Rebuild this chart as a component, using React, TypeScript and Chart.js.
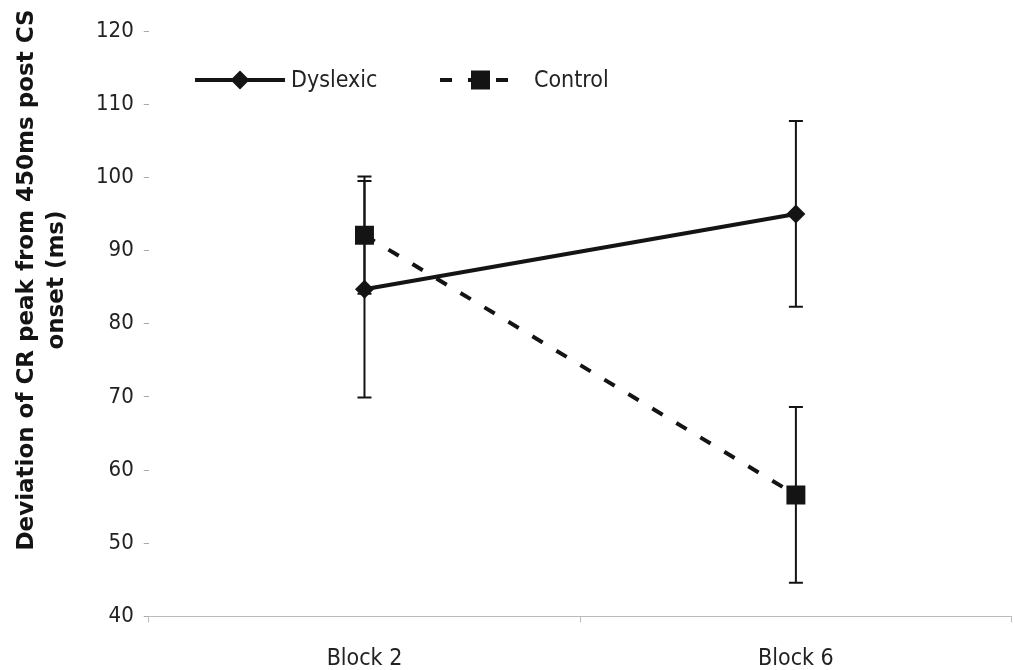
import React, { useEffect, useRef } from "react";
import { Chart, registerables } from "chart.js";

Chart.register(...registerables);

const categories = ["Block 2", "Block 6"];
const dyslexic = [84.7, 95.0];
const dyslexicErr = [14.8, 12.7];
const control = [92.1, 56.6];
const controlErr = [8.0, 12.0];
const yTicks = [40, 50, 60, 70, 80, 90, 100, 110, 120];
const seriesNames = ["Dyslexic", "Control"];
const yTitleLines = ["Deviation of CR peak from 450ms post CS", "onset (ms)"];

const FONT = "'DejaVu Sans Condensed', 'DejaVu Sans', sans-serif";
const TITLE_FONT = "'DejaVu Sans', sans-serif";
const INK = "#141414";

const errorBarPlugin = {
  id: "errorBars",
  beforeDatasetsDraw(chart: any) {
    const ctx = chart.ctx;
    const y = chart.scales.y;
    const errs = [dyslexicErr, controlErr];
    chart.data.datasets.forEach((ds: any, di: number) => {
      const meta = chart.getDatasetMeta(di);
      meta.data.forEach((pt: any, i: number) => {
        const v = ds.data[i];
        const e = errs[di][i];
        const yTop = y.getPixelForValue(v + e);
        const yBot = y.getPixelForValue(v - e);
        ctx.save();
        ctx.strokeStyle = INK;
        ctx.lineWidth = 2;
        ctx.beginPath();
        ctx.moveTo(pt.x, yTop);
        ctx.lineTo(pt.x, yBot);
        ctx.moveTo(pt.x - 7, yTop);
        ctx.lineTo(pt.x + 7, yTop);
        ctx.moveTo(pt.x - 7, yBot);
        ctx.lineTo(pt.x + 7, yBot);
        ctx.stroke();
        ctx.restore();
      });
    });
  },
};

const legendPlugin = {
  id: "customLegend",
  afterDraw(chart: any) {
    const ctx = chart.ctx;
    const ly = 80;
    ctx.save();
    ctx.strokeStyle = INK;
    ctx.fillStyle = INK;
    // Dyslexic
    ctx.lineWidth = 4;
    ctx.beginPath();
    ctx.moveTo(195, ly);
    ctx.lineTo(285, ly);
    ctx.stroke();
    ctx.beginPath();
    ctx.moveTo(240 - 9.5, ly);
    ctx.lineTo(240, ly - 9.5);
    ctx.lineTo(240 + 9.5, ly);
    ctx.lineTo(240, ly + 9.5);
    ctx.closePath();
    ctx.fill();
    // Control
    ctx.setLineDash([12, 16]);
    ctx.beginPath();
    ctx.moveTo(440, ly);
    ctx.lineTo(524, ly);
    ctx.stroke();
    ctx.setLineDash([]);
    ctx.fillRect(471, ly - 9.5, 19, 19);
    ctx.font = `23px ${FONT}`;
    ctx.textBaseline = "middle";
    ctx.fillStyle = "#222";
    ctx.fillText(seriesNames[0], 291, ly + 1);
    ctx.fillText(seriesNames[1], 534, ly + 1);
    // Y-axis title
    ctx.fillStyle = INK;
    ctx.font = `bold 23px ${TITLE_FONT}`;
    ctx.textAlign = "center";
    ctx.textBaseline = "middle";
    const cy = 280;
    const xs = [27, 57];
    yTitleLines.forEach((line, i) => {
      ctx.save();
      ctx.translate(xs[i], cy);
      ctx.rotate(-Math.PI / 2);
      ctx.fillText(line, 0, 0);
      ctx.restore();
    });
    ctx.restore();
  },
};

export default function App() {
  const ref = useRef<HTMLCanvasElement>(null);
  useEffect(() => {
    if (!ref.current) return;
    const chart = new Chart(ref.current, {
      type: "line",
      data: {
        labels: categories,
        datasets: [
          {
            label: seriesNames[0],
            data: dyslexic,
            borderColor: INK,
            backgroundColor: INK,
            borderWidth: 4,
            pointStyle: "rectRot",
            pointRadius: 9.5,
            pointBorderWidth: 0,
          },
          {
            label: seriesNames[1],
            data: control,
            borderColor: INK,
            backgroundColor: INK,
            borderWidth: 4,
            borderDash: [12, 16],
            pointStyle: "rect",
            pointRadius: 13.4,
            pointBorderWidth: 0,
          },
        ],
      },
      options: {
        animation: false,
        responsive: false,
        layout: { padding: { top: 31, right: 0, left: 86, bottom: -26 } },
        plugins: { legend: { display: false }, tooltip: { enabled: false } },
        scales: {
          x: {
            offset: true,
            grid: {
              offset: true,
              drawOnChartArea: false,
              drawTicks: true,
              tickLength: 6,
              color: "#bbbbbb",
            },
            border: { display: true, color: "#bbbbbb", width: 1 },
            ticks: {
              color: "#222",
              font: { family: FONT, size: 23 },
              padding: 23,
            },
          },
          y: {
            min: 40,
            max: 120,
            afterBuildTicks(axis: any) {
              axis.ticks = yTicks.map((v) => ({ value: v }));
            },
            grid: {
              drawOnChartArea: false,
              drawTicks: true,
              tickLength: 5,
              color: "#aaaaaa",
            },
            border: { display: false },
            ticks: {
              color: "#222",
              font: { family: FONT, size: 22 },
              padding: 10,
            },
          },
        },
      },
      plugins: [errorBarPlugin, legendPlugin],
    });
    return () => chart.destroy();
  }, []);
  return (
    <div style={{ position: "fixed", left: 0, top: 0, width: 1015, height: 670, overflow: "hidden", background: "#fff" }}>
      <canvas ref={ref} width={1025} height={670} style={{ display: "block" }} />
    </div>
  );
}
